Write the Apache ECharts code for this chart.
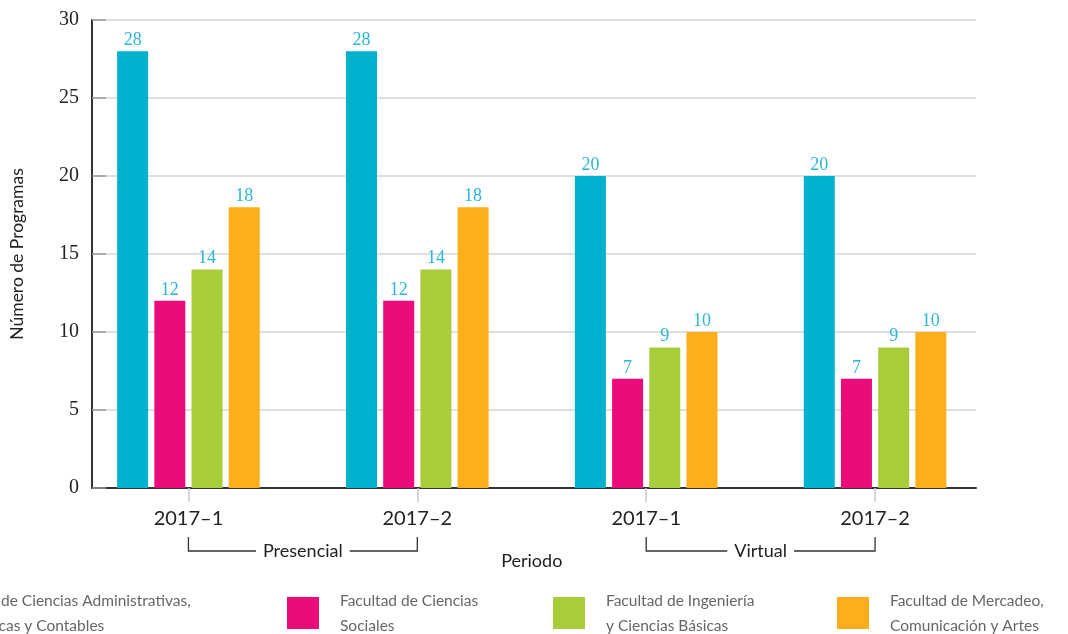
<!DOCTYPE html>
<html>
<head>
<meta charset="utf-8">
<title>Número de Programas por Periodo</title>
<script src="https://cdn.jsdelivr.net/npm/echarts@6/dist/echarts.min.js"></script>
<style>
  html, body { margin: 0; padding: 0; background: #fff; }
  #chart { width: 1068px; height: 634px; }
</style>
</head>
<body>
<div id="chart"></div>
<script>
  // datos
  var periodos = ['2017–1', '2017–2', '2017–1', '2017–2'];
  var modalidades = ['Presencial', 'Virtual'];
  var modalidadRango = [[0, 1], [2, 3]];   // indices de periodo que abarca cada modalidad

  var facultades = [
    'Facultad de Ciencias Administrativas, Económicas y Contables',
    'Facultad de Ciencias Sociales',
    'Facultad de Ingeniería y Ciencias Básicas',
    'Facultad de Mercadeo, Comunicación y Artes'
  ];
  var leyendas = [
    'Facultad de Ciencias Administrativas,\nEconómicas y Contables',
    'Facultad de Ciencias\nSociales',
    'Facultad de Ingeniería\ny Ciencias Básicas',
    'Facultad de Mercadeo,\nComunicación y Artes'
  ];
  var administrativas = [28, 28, 20, 20];
  var sociales = [12, 12, 7, 7];
  var ingenieria = [14, 14, 9, 9];
  var mercadeo = [18, 18, 10, 10];
  var yTicks = [0, 5, 10, 15, 20, 25, 30];

  var colores = ['#00b2cd', '#ec0b7b', '#a8cd3a', '#fcae1b'];
  var valores = [administrativas, sociales, ingenieria, mercadeo];
  var leyendaX = [-118, 282, 548, 832];

  var sans = 'Lato';
  var serif = 'Liberation Serif';

  var chart = echarts.init(document.getElementById('chart'));

  var series = facultades.map(function (nombre, i) {
    return {
      name: nombre,
      type: 'bar',
      xAxisIndex: 0,
      yAxisIndex: 0,
      data: valores[i],
      barWidth: 31,
      barGap: '20%',
      itemStyle: { color: colores[i] },
      label: {
        show: true,
        position: 'top',
        distance: 2,
        color: '#2bb6d6',
        fontFamily: serif,
        fontSize: 18
      },
      emphasis: { disabled: true }
    };
  });

  var legend = facultades.map(function (nombre, i) {
    return {
      data: [nombre],
      left: leyendaX[i],
      top: 583,
      orient: 'horizontal',
      itemWidth: 32,
      itemHeight: 32,
      icon: 'rect',
      selectedMode: false,
      formatter: function () { return leyendas[i]; },
      textStyle: {
        fontFamily: sans,
        fontSize: 15.5,
        lineHeight: 25,
        color: '#666',
        padding: [0, 0, 0, 16]
      }
    };
  });

  var option = {
    animation: false,
    backgroundColor: '#fff',
    legend: legend,
    grid: [
      { left: 74, right: 78.5, top: 20, bottom: 146 },   // barras
      { left: 86, right: 92, top: 20, bottom: 146 }      // ejes
    ],
    xAxis: [
      {
        type: 'category',
        gridIndex: 0,
        data: periodos,
        name: 'Periodo',
        nameLocation: 'middle',
        nameGap: 64,
        nameTextStyle: { fontFamily: sans, fontSize: 18, color: '#222' },
        axisLine: { show: false },
        axisTick: { show: true, alignWithLabel: true, length: 14, lineStyle: { color: '#c8c8c8', width: 1.5 } },
        axisLabel: { fontFamily: sans, fontSize: 20, color: '#222', margin: 21 },
        splitLine: { show: false }
      },
      {
        type: 'value',
        gridIndex: 1,
        min: 0,
        max: 1,
        axisLine: { show: true, onZero: false, lineStyle: { color: '#333', width: 2 } },
        axisTick: { show: false },
        axisLabel: { show: false },
        splitLine: { show: false }
      }
    ],
    yAxis: [
      {
        type: 'value',
        gridIndex: 0,
        min: 0,
        max: 30,
        show: false
      },
      {
        type: 'value',
        gridIndex: 1,
        min: yTicks[0],
        max: yTicks[yTicks.length - 1],
        interval: 5,
        name: 'Número de Programas',
        nameLocation: 'middle',
        nameGap: 66,
        nameTextStyle: { fontFamily: sans, fontSize: 17.5, color: '#222' },
        axisLine: { show: true, lineStyle: { color: '#333', width: 2 } },
        axisTick: { show: true, inside: true, length: 14, lineStyle: { color: '#999', width: 1.5 } },
        axisLabel: { fontFamily: serif, fontSize: 20, color: '#222', margin: 13 },
        splitLine: { show: true, lineStyle: { color: '#d4d4d4', width: 1.5 } }
      }
    ],
    series: series
  };

  chart.setOption(option);

  // corchetes de modalidad bajo el eje, ubicados con la escala del eje x
  var y0 = chart.convertToPixel({ yAxisIndex: 0 }, 0);
  var graficos = [];
  modalidadRango.forEach(function (r, k) {
    var xa = chart.convertToPixel({ xAxisIndex: 0 }, r[0]);
    var xb = chart.convertToPixel({ xAxisIndex: 0 }, r[1]);
    var yTop = y0 + 49, yBot = y0 + 63;
    graficos.push({
      type: 'polyline',
      shape: { points: [[xa, yTop], [xa, yBot], [xb, yBot], [xb, yTop]] },
      style: { stroke: '#333', lineWidth: 1.3, fill: null },
      silent: true
    });
    graficos.push({
      type: 'text',
      x: (xa + xb) / 2,
      y: yBot,
      style: {
        text: modalidades[k],
        fontFamily: sans,
        fontSize: 18,
        fill: '#222',
        align: 'center',
        verticalAlign: 'middle',
        backgroundColor: '#fff',
        padding: [0, 7]
      },
      silent: true
    });
  });
  chart.setOption({ graphic: graficos });
</script>
</body>
</html>
